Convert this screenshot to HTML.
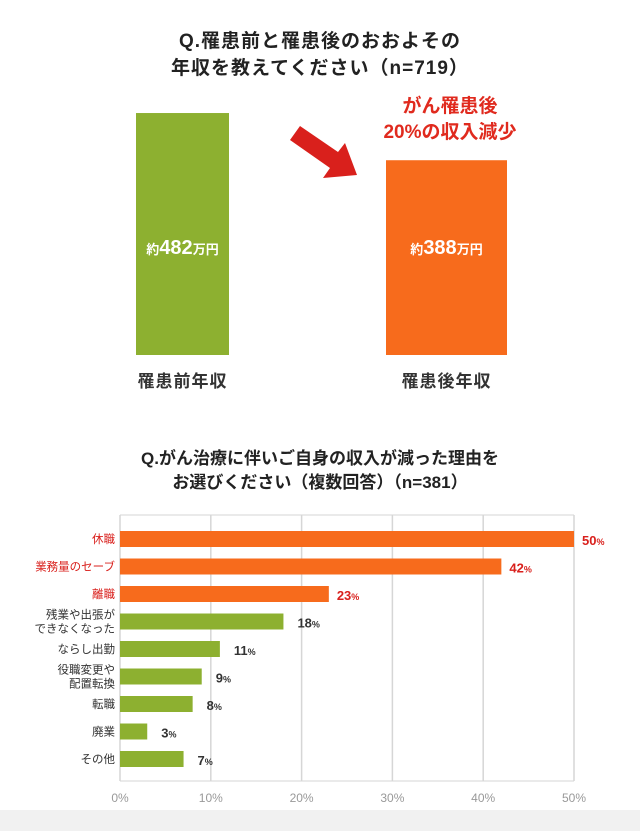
<!DOCTYPE html>
<html><head><meta charset="utf-8"><style>
body{margin:0;width:640px;height:831px;background:#fff;font-family:"Liberation Sans","Noto Sans CJK JP",sans-serif;position:relative;overflow:hidden}
.t{position:absolute;left:0;width:640px;text-align:center;font-weight:bold;color:#222}
</style></head><body>
<div class="t" style="top:28px;font-size:19px;line-height:27px;letter-spacing:1px">Q.罹患前と罹患後のおおよその<br>年収を教えてください（n=719）</div>
<div style="position:absolute;left:360px;width:180px;top:94px;text-align:center;color:#e02a1e;font-weight:bold;font-size:19px;line-height:26px">がん罹患後<br>20%の収入減少</div>
<svg id="topchart" width="640" height="400" style="position:absolute;left:0;top:0">
<polygon points="290,140 300,126 338,152 345,143 357,175 323,178 330,168" fill="#d9201c"/>
</svg>
<div class="t" style="top:447px;font-size:17px;line-height:24px">Q.がん治療に伴いご自身の収入が減った理由を<br>お選びください（複数回答）（n=381）</div>
<div style="position:absolute;left:0;top:810px;width:640px;height:21px;background:#f1f1f1"></div>
<svg id="botchart" width="640" height="831" style="position:absolute;left:0;top:0"></svg>
<script>
const incomeLabels=["罹患前年収","罹患後年収"];
const incomeValues=[482,388];
const reasonCats=["休職","業務量のセーブ","離職","残業や出張が|できなくなった","ならし出勤","役職変更や|配置転換","転職","廃業","その他"];
const reasonValues=[50,42,23,18,11,9,8,3,7];
const xTicks=[0,10,20,30,40,50];
const NS="http://www.w3.org/2000/svg";
function mk(p,tag,a,txt){const e=document.createElementNS(NS,tag);for(const k in a)e.setAttribute(k,a[k]);if(txt!=null)e.textContent=txt;p.appendChild(e);return e;}
const topSvg=document.getElementById('topchart');
const base=355,ys=v=>base-v*0.502;
const bx=[136,386],bw=[93,121],bc=["#8db030","#f76b1c"];
incomeValues.forEach((v,i)=>{
 const r=mk(topSvg,'rect',{x:bx[i],y:ys(v),width:bw[i],height:base-ys(v),fill:bc[i]});
 
 
 const t=mk(topSvg,'text',{x:bx[i]+bw[i]/2,y:254,'text-anchor':'middle',fill:'#fff','font-weight':'bold','font-size':'20'});
 
 
 mk(t,'tspan',{'font-size':'13'},'約');mk(t,'tspan',{},String(v));mk(t,'tspan',{'font-size':'13'},'万円');
 const l=mk(topSvg,'text',{x:bx[i]+bw[i]/2,y:387,'text-anchor':'middle',fill:'#333','font-size':'17','font-weight':'bold','letter-spacing':'1'},incomeLabels[i]);
 
 
});
const botSvg=document.getElementById('botchart');
const x0=120,x1=574,xs=v=>x0+(x1-x0)*v/50;
const yTop=515,yBot=781,step=27.5,firstC=539;
const yc=i=>firstC+i*step;
mk(botSvg,'line',{x1:x0,y1:yTop,x2:x1,y2:yTop,stroke:'#d6d6d6'});
mk(botSvg,'line',{x1:x0,y1:yBot,x2:x1,y2:yBot,stroke:'#d6d6d6'});
xTicks.forEach(t=>{
 const g=mk(botSvg,'line',{x1:xs(t),y1:yTop,x2:xs(t),y2:yBot,stroke:'#d6d6d6','stroke-width':'1.5'});
 
 
 const l=mk(botSvg,'text',{x:xs(t),y:802,'text-anchor':'middle',fill:'#999','font-size':'12'},t+'%');
 
 
});
reasonValues.forEach((v,i)=>{
 const red=i<3,c=yc(i);
 const r=mk(botSvg,'rect',{x:x0,y:c-8,width:xs(v)-x0,height:16,fill:red?'#f76b1c':'#8db030'});
 
 
 const lines=reasonCats[i].split('|');
 lines.forEach((s,j)=>{
  const tt=mk(botSvg,'text',{x:115,y:c+4+(j-(lines.length-1)/2)*14,'text-anchor':'end',fill:red?'#d9201c':'#333','font-size':'11.5'},s);
  
  
 });
 const vt=mk(botSvg,'text',{x:xs(v)+(red?8:14),y:c+6,fill:red?'#d9201c':'#333','font-size':'13','font-weight':'bold'});
 
 
 mk(vt,'tspan',{},String(v));mk(vt,'tspan',{'font-size':'9'},'%');
});
</script>
</body></html>
